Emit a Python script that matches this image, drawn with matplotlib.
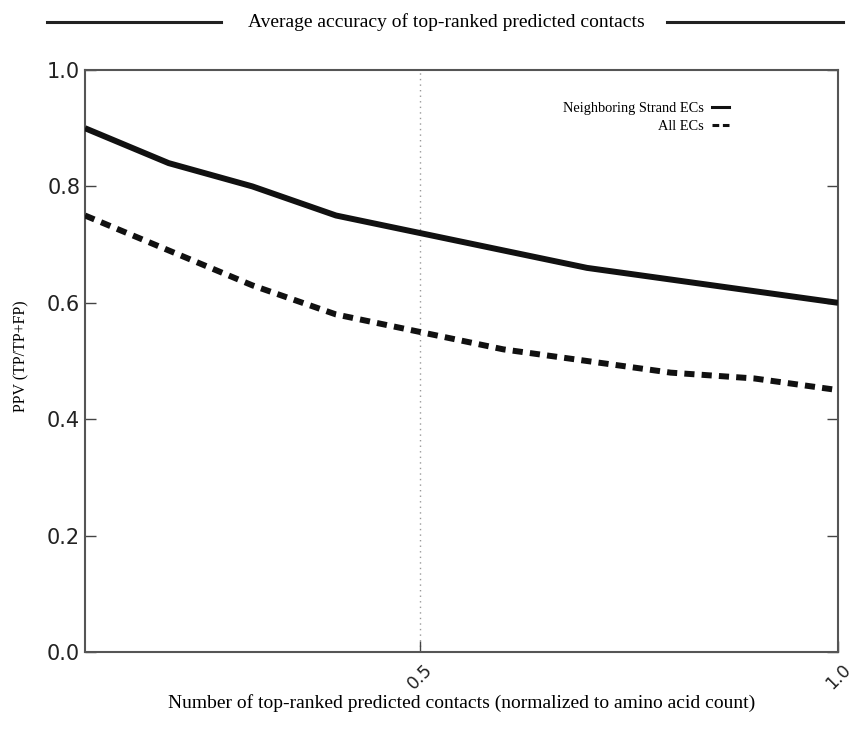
import matplotlib
matplotlib.use("Agg")
import matplotlib.pyplot as plt
from matplotlib.lines import Line2D

x_vals = [0.1, 0.2, 0.3, 0.4, 0.5, 0.6, 0.7, 0.8, 0.9, 1.0]
neighboring = [0.90, 0.84, 0.80, 0.75, 0.72, 0.69, 0.66, 0.64, 0.62, 0.60]
all_ecs = [0.75, 0.69, 0.63, 0.58, 0.55, 0.52, 0.50, 0.48, 0.47, 0.45]
xticks = [0.5, 1.0]
yticks = [0.0, 0.2, 0.4, 0.6, 0.8, 1.0]
series_labels = ["Neighboring Strand ECs", "All ECs"]

serif = "Liberation Serif"

fig = plt.figure(figsize=(8.51, 7.36), dpi=100)
ax = fig.add_axes([85/851, 1-652/736, (838-85)/851, (652-70)/736])

ax.axvline(0.5, color="#999999", linestyle=(0, (1, 3)), linewidth=1.0, zorder=1)
ax.plot(x_vals, neighboring, color="#111111", linewidth=4.3, solid_capstyle="butt",
        label=series_labels[0], zorder=3)
ax.plot(x_vals, all_ecs, color="#111111", linewidth=4.3, dashes=(1.7, 1.2),
        dash_capstyle="butt", label=series_labels[1], zorder=3)

ax.set_xlim(0.1, 1.0)
ax.set_ylim(0.0, 1.0)
ax.set_xticks(xticks)
ax.set_xticklabels(["0.5", "1.0"], rotation=45, fontsize=12.5, family="DejaVu Sans", ha="center")
ax.set_yticks(yticks)
ax.set_yticklabels([f"{v:.1f}" for v in yticks], fontsize=15, family="DejaVu Sans")
ax.tick_params(direction="in", length=8, width=1, color="#444444", right=True, top=False,
               labelcolor="#222222")
ax.tick_params(axis="x", pad=6)
for s in ax.spines.values():
    s.set_color("#555555")
    s.set_linewidth(1.5)

ax.set_xlabel("Number of top-ranked predicted contacts (normalized to amino acid count)",
              family=serif, fontsize=14, va="center")
ax.xaxis.set_label_coords(0.5, (652-703)/582)
ax.set_ylabel("PPV (TP/TP+FP)", family=serif, fontsize=11.5, va="center")
ax.yaxis.set_label_coords((21-85)/753, (652-356)/582)

handles = [Line2D([], [], color="#111111", linewidth=2.2),
           Line2D([], [], color="#111111", linewidth=2.2, dashes=(2.2, 1.2))]
leg = ax.legend(handles, series_labels, loc="upper right", frameon=False, markerfirst=False,
                prop={"family": serif, "size": 10.4}, handlelength=1.2, handletextpad=0.55,
                labelspacing=0.35, bbox_to_anchor=(0.8725, 0.967))

fig.text(446/851, 1-22/736, "Average accuracy of top-ranked predicted contacts",
         family=serif, fontsize=14, ha="center", va="center")
fig.add_artist(Line2D([47/851, 221/851], [1-22/736, 1-22/736], color="#222222", linewidth=2.2))
fig.add_artist(Line2D([667/851, 843/851], [1-22/736, 1-22/736], color="#222222", linewidth=2.2))

fig.savefig("out.png", dpi=100)
